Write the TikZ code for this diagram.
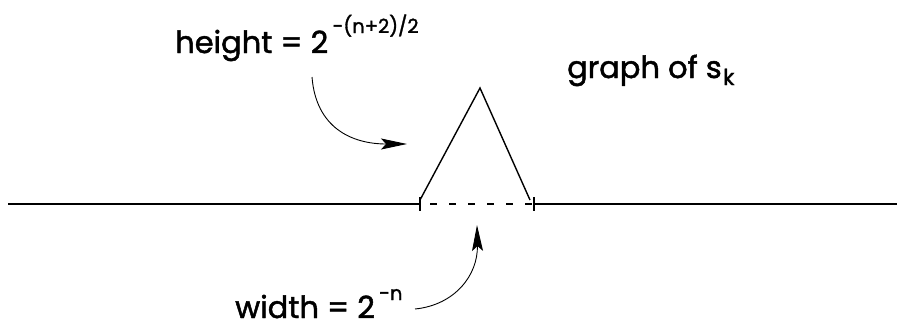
\documentclass[tikz,border=0pt]{standalone}
\usepackage{fontspec}
\setmainfont{Poppins}[FakeBold=1.6]
\usetikzlibrary{arrows.meta}
\begin{document}
\begin{tikzpicture}[x=1pt,y=-1pt,
  lbl/.style={inner sep=0pt,anchor=base west,font=\fontsize{30.5}{32}\selectfont},
  sup/.style={inner sep=0pt,anchor=base west,font=\fontsize{19.5}{20}\selectfont},
  subs/.style={inner sep=0pt,anchor=base west,font=\fontsize{22}{24}\selectfont},
  axis/.style={line width=2.7pt},
  tri/.style={line width=1.4pt},
  pointer/.style={line width=0.9pt,-{Stealth[length=26pt,width=11pt,inset=5pt]}}]
\useasboundingbox (0,0) rectangle (899,332);
% axis
\coordinate (L) at (8,204);
\coordinate (A) at (420,204);
\coordinate (B) at (534,204);
\coordinate (R) at (897,204);
\coordinate (P) at (480,88);
\draw[axis] (L) -- (A);
\draw[axis] (B) -- (R);
\draw[line width=1.6pt,dash pattern=on 7pt off 12pt,dash phase=-10pt] (A) -- (B);
\draw[line width=2.2pt] (420,197) -- (420,211);
\draw[line width=2.2pt] (534,197) -- (534,211);
% triangle
\draw[tri] (420,200) -- (P) -- (530,200);
% labels
\node[lbl] (h) at (175,53) {height = 2};
\node[sup] (hs) at ([xshift=4pt,yshift=20pt]h.base east) {-(n+2)/2};
\node[lbl] (w) at (235,318) {width = 2};
\node[sup] (ws) at ([xshift=4pt,yshift=18pt]w.base east) {-n};
\node[lbl] (g) at (567,78) {graph of s};
\node[subs] (gs) at ([xshift=1pt,yshift=-7pt]g.base east) {k};
% arrows
\coordinate (h1) at (312,77);
\coordinate (h2) at (407,144);
\draw[pointer] (h1) .. controls (316,128) and (352,144) .. (h2);
\coordinate (w1) at (415,309);
\coordinate (w2) at (477,225);
\draw[pointer] (w1) .. controls (455,305) and (478,275) .. (w2);
\end{tikzpicture}
\end{document}
